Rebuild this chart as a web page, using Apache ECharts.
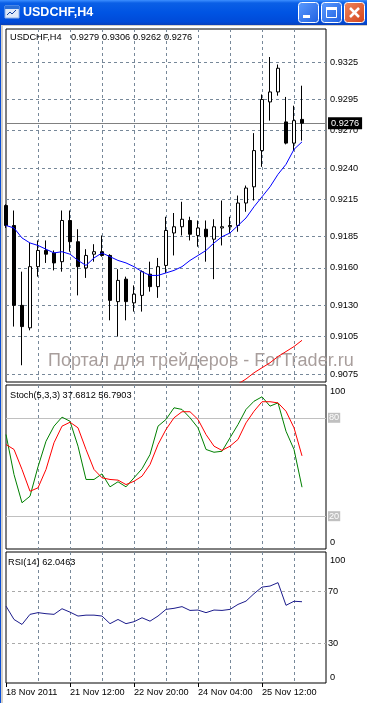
<!DOCTYPE html>
<html><head><meta charset="utf-8">
<script src="https://cdn.jsdelivr.net/npm/echarts@6/dist/echarts.min.js"></script>
<style>html,body{margin:0;padding:0;background:#fff;overflow:hidden}#c{width:367px;height:703px}</style>
</head><body><div id="c"></div>
<script>
// ---- data (USDCHF H4) ----
const categories = ['18 Nov 04:00','18 Nov 08:00','18 Nov 12:00','18 Nov 16:00','18 Nov 20:00','21 Nov 00:00','21 Nov 04:00','21 Nov 08:00',
 '21 Nov 12:00','21 Nov 16:00','21 Nov 20:00','22 Nov 00:00','22 Nov 04:00','22 Nov 08:00','22 Nov 12:00','22 Nov 16:00',
 '22 Nov 20:00','23 Nov 00:00','23 Nov 04:00','23 Nov 08:00','23 Nov 12:00','23 Nov 16:00','23 Nov 20:00','24 Nov 00:00',
 '24 Nov 04:00','24 Nov 08:00','24 Nov 12:00','24 Nov 16:00','24 Nov 20:00','25 Nov 00:00','25 Nov 04:00','25 Nov 08:00',
 '25 Nov 12:00','25 Nov 16:00','25 Nov 20:00','26 Nov 00:00','26 Nov 04:00','26 Nov 08:00'];
const emptySlots = ['', '', ''];
const tickLabels = ['18 Nov 2011','21 Nov 12:00','22 Nov 20:00','24 Nov 04:00','25 Nov 12:00'];

const open  = [0.9210,0.9194,0.9130,0.9112,0.9161,0.9174,0.9172,0.9165,0.9198,0.9181,0.9160,0.9171,0.9173,0.9170,0.9133,0.9151,0.9132,0.9138,0.9155,0.9145,0.9162,0.9188,0.9193,0.9198,0.9186,0.9191,0.9183,0.9192,0.9193,0.9194,0.9212,0.9225,0.9254,0.9293,0.9301,0.9277,0.9260,0.9279];
const close = [0.9194,0.9130,0.9113,0.9161,0.9174,0.9171,0.9164,0.9198,0.9181,0.9161,0.9170,0.9173,0.9170,0.9134,0.9150,0.9133,0.9139,0.9157,0.9145,0.9161,0.9190,0.9193,0.9199,0.9187,0.9192,0.9185,0.9193,0.9193,0.9194,0.9212,0.9224,0.9254,0.9295,0.9301,0.9320,0.9260,0.9278,0.9276];
const high  = [0.9211,0.9206,0.9157,0.9180,0.9182,0.9182,0.9174,0.9206,0.9206,0.9191,0.9175,0.9179,0.9186,0.9171,0.9159,0.9153,0.9146,0.9158,0.9165,0.9168,0.9201,0.9204,0.9213,0.9201,0.9198,0.9198,0.9199,0.9214,0.9201,0.9218,0.9226,0.9268,0.9299,0.9329,0.9323,0.9297,0.9290,0.9306];
const low   = [0.9192,0.9113,0.9082,0.9110,0.9153,0.9164,0.9158,0.9157,0.9173,0.9138,0.9152,0.9165,0.9169,0.9118,0.9105,0.9118,0.9125,0.9125,0.9141,0.9136,0.9156,0.9170,0.9186,0.9182,0.9177,0.9165,0.9151,0.9178,0.9188,0.9189,0.9205,0.9214,0.9241,0.9278,0.9298,0.9259,0.9254,0.9262];
const maFast = [0.9194,0.9192,0.9184,0.9180,0.9178,0.9175,0.9172,0.9173,0.9171,0.9166,0.9162,0.9168,0.9172,0.9169,0.9166,0.9164,0.9161,0.9157,0.9154,0.9154,0.9156,0.9158,0.9161,0.9166,0.9170,0.9174,0.9180,0.9185,0.9188,0.9194,0.9200,0.9209,0.9217,0.9225,0.9235,0.9243,0.9255,0.9261];
const maSlow = [null,null,null,null,null,null,null,null,null,null,null,null,null,null,null,null,null,null,null,null,null,null,null,null,null,null,null,null,null,
 0.9067,0.9071,0.9076,0.9080,0.9084,0.9089,0.9093,0.9097,0.9102];
const stochMain = [69.8,45.4,28.2,32.2,50.1,65.7,74.9,80.4,77.9,62.7,42.4,42.4,45.8,37.9,41.0,37.9,43.4,48.9,57.6,74.9,79.0,86.1,85.1,80.0,73.9,60.7,59.0,59.6,67.8,75.9,85.1,90.1,92.8,87.1,89.1,71.8,60.7,37.6812];
const stochSignal = [63.7,60.7,48.5,35.2,37.3,48.5,64.8,74.9,77.3,73.9,60.7,48.5,43.4,42.4,42.0,39.3,41.3,44.4,51.5,63.7,72.9,80.0,83.7,83.7,79.0,69.8,62.7,60.1,62.7,66.8,76.9,84.0,89.8,89.8,89.1,84.0,73.9,56.7903];
const rsi = [58.7,48.5,44.7,52.4,53.7,52.9,52.4,56.7,54.1,51.1,51.8,51.8,51.1,45.3,48.5,45.3,46.8,49.8,47.2,51.1,56.2,57.0,58.3,55.4,55.7,53.7,55.7,55.4,56.2,60.0,62.5,68.2,73.2,74.0,76.6,59.3,62.4,62.0463];
const priceTicks = [0.9325,0.9295,0.9270,0.9240,0.9215,0.9185,0.9160,0.9130,0.9105,0.9075];
const stochLevels = [80, 20];
const rsiLevels = [70, 30];
const priceMin = 0.906859, priceMax = 0.935144;

// ---- build ----
const FF = '"Liberation Sans", Arial, sans-serif';
const FS = 9.2;
const cats = categories.concat(emptySlots);
const last = open.length - 1;
const candles = open.map((o, i) => [o, close[i], low[i], high[i]]);
const GRID = '#778899';

function xAxisFor(g, bottom) {
  return {
    type: 'category', gridIndex: g, data: cats, boundaryGap: false,
    axisLine: { show: false },
    axisTick: { show: bottom, interval: (i) => i % 8 === 0 && i <= 32, length: 4, lineStyle: { color: '#000' } },
    axisLabel: { show: bottom, interval: (i) => i % 8 === 0 && i <= 32, formatter: (v, i) => tickLabels[i / 8] || '',
      align: 'left', margin: 5, color: '#000', fontSize: FS, fontFamily: FF },
    splitLine: { show: true, interval: (i) => i > 0 && i < 40 && i % 4 === 0, lineStyle: { color: GRID, type: [3, 3], width: 1 } }
  };
}
function oscAxis(g, topPad, botPad) {
  return {
    type: 'value', gridIndex: g, min: 0, max: 100, interval: 100, position: 'right',
    axisLine: { show: false }, axisTick: { show: false }, splitLine: { show: false },
    axisLabel: { margin: 4, color: '#000', fontSize: FS, fontFamily: FF,
      formatter: v => v === 100 ? '{t|100}' : '{b|0}',
      rich: { t: { padding: [topPad, 0, 0, 0], fontSize: FS, fontFamily: FF, color: '#000' },
              b: { padding: [0, 0, botPad, 0], fontSize: FS, fontFamily: FF, color: '#000' } } }
  };
}

const gridBox = { show: true, borderColor: '#000', borderWidth: 1, backgroundColor: '#fff', containLabel: false };

const option = {
  animation: false,
  backgroundColor: '#fff',
  textStyle: { fontFamily: FF },
  grid: [
    Object.assign({ left: 6, top: 29, width: 320, height: 353 }, gridBox),
    Object.assign({ left: 6, top: 385, width: 320, height: 164 }, gridBox),
    Object.assign({ left: 6, top: 552, width: 320, height: 131 }, gridBox)
  ],
  xAxis: [xAxisFor(0, false), xAxisFor(1, false), xAxisFor(2, true)],
  yAxis: [
    { type: 'value', gridIndex: 0, min: priceMin, max: priceMax, show: false, scale: true },
    oscAxis(1, 12, 13),
    oscAxis(2, 16, 11)
  ],
  series: [
    { type: 'candlestick', xAxisIndex: 0, yAxisIndex: 0, data: candles, barWidth: 4, z: 10,
      itemStyle: { color: '#fff', color0: '#000', borderColor: '#000', borderColor0: '#000', borderColorDoji: '#000', borderWidth: 1 } },
    { type: 'line', xAxisIndex: 0, yAxisIndex: 0, data: maFast, showSymbol: false, z: 11,
      lineStyle: { color: '#0000ff', width: 1 },
      markLine: { silent: true, symbol: 'none', animation: false, precision: 6,
        lineStyle: { color: GRID, type: [3, 3], width: 1 },
        label: { position: 'end', distance: 4, color: '#000', fontSize: FS, fontFamily: FF, formatter: p => Number(p.value).toFixed(4) },
        data: priceTicks.map(v => ({ yAxis: v })).concat([{
          yAxis: close[last], lineStyle: { type: 'solid', color: '#808080', width: 1 },
          label: { backgroundColor: '#000', color: '#fff', padding: [2, 3, 1, 3], distance: 2 }
        }]) } },
    { type: 'line', xAxisIndex: 0, yAxisIndex: 0, data: maSlow, showSymbol: false, z: 11, connectNulls: false,
      lineStyle: { color: '#ff0000', width: 1 } },
    { type: 'line', xAxisIndex: 1, yAxisIndex: 1, data: stochMain, showSymbol: false, z: 11,
      lineStyle: { color: '#008000', width: 1 },
      markLine: { silent: true, symbol: 'none', animation: false,
        lineStyle: { color: '#c0c0c0', type: 'solid', width: 1 },
        label: { position: 'end', distance: 2, color: '#fff', backgroundColor: '#c0c0c0', padding: [1, 1, 0, 1],
          fontSize: FS, fontFamily: FF, formatter: p => String(p.value) },
        data: stochLevels.map(v => ({ yAxis: v })) } },
    { type: 'line', xAxisIndex: 1, yAxisIndex: 1, data: stochSignal, showSymbol: false, z: 12,
      lineStyle: { color: '#ff0000', width: 1 } },
    { type: 'line', xAxisIndex: 2, yAxisIndex: 2, data: rsi, showSymbol: false, z: 11,
      lineStyle: { color: '#1c1c8c', width: 1 },
      markLine: { silent: true, symbol: 'none', animation: false,
        lineStyle: { color: '#a9a9a9', type: [3, 3], width: 1 },
        label: { position: 'end', distance: 2, color: '#000', fontSize: FS, fontFamily: FF, formatter: p => String(p.value) },
        data: rsiLevels.map(v => ({ yAxis: v })) } }
  ],
  graphic: [
    // window chrome
    { type: 'rect', shape: { x: 0, y: 0, width: 367, height: 25 }, z: 100,
      style: { fill: new echarts.graphic.LinearGradient(0, 0, 0, 1, [
        { offset: 0, color: '#3d8fff' }, { offset: 0.12, color: '#0a5fe6' }, { offset: 0.5, color: '#0054e3' },
        { offset: 0.88, color: '#004ad8' }, { offset: 1, color: '#0a40b8' }]) } },
    { type: 'rect', shape: { x: 0, y: 25, width: 367, height: 1 }, z: 100, style: { fill: '#d4d0c8' } },
    { type: 'rect', shape: { x: 0, y: 25, width: 1, height: 678 }, z: 100, style: { fill: '#0a4fd8' } },
    { type: 'rect', shape: { x: 1, y: 26, width: 2, height: 677 }, z: 100, style: { fill: '#d4d0c8' } },
    { type: 'rect', shape: { x: 5, y: 6, width: 14, height: 12 }, z: 101, style: { fill: '#dfe9f8', stroke: '#8fb2e8', lineWidth: 1 } },
    { type: 'rect', shape: { x: 5, y: 6, width: 14, height: 3 }, z: 102, style: { fill: '#2a6fd8' } },
    { type: 'polyline', shape: { points: [[7, 15], [10, 12], [12, 14], [16, 10]] }, z: 102, style: { stroke: '#1040a0', lineWidth: 1, fill: null } },
    { type: 'text', z: 101, style: { text: 'USDCHF,H4', x: 23, y: 13, verticalAlign: 'middle', align: 'left',
      font: 'bold 12.5px ' + FF, fill: '#fff' } },
    { type: 'rect', shape: { x: 298.5, y: 2.5, width: 20, height: 20, r: 3 }, z: 101,
      style: { fill: new echarts.graphic.LinearGradient(0, 0, 1, 1, [{ offset: 0, color: '#5c9cff' }, { offset: 1, color: '#1e5fe0' }]), stroke: '#fff', lineWidth: 1 } },
    { type: 'rect', shape: { x: 321.5, y: 2.5, width: 20, height: 20, r: 3 }, z: 101,
      style: { fill: new echarts.graphic.LinearGradient(0, 0, 1, 1, [{ offset: 0, color: '#5c9cff' }, { offset: 1, color: '#1e5fe0' }]), stroke: '#fff', lineWidth: 1 } },
    { type: 'rect', shape: { x: 344.5, y: 2.5, width: 20, height: 20, r: 3 }, z: 101,
      style: { fill: new echarts.graphic.LinearGradient(0, 0, 1, 1, [{ offset: 0, color: '#f0875e' }, { offset: 1, color: '#d2431c' }]), stroke: '#fff', lineWidth: 1 } },
    { type: 'rect', shape: { x: 303, y: 15, width: 7, height: 3 }, z: 102, style: { fill: '#fff' } },
    { type: 'rect', shape: { x: 326.5, y: 7.5, width: 10, height: 10 }, z: 102, style: { fill: null, stroke: '#fff', lineWidth: 1 } },
    { type: 'rect', shape: { x: 326, y: 7, width: 11, height: 3 }, z: 102, style: { fill: '#fff' } },
    { type: 'line', shape: { x1: 350, y1: 8, x2: 359, y2: 17 }, z: 102, style: { stroke: '#fff', lineWidth: 2.5 } },
    { type: 'line', shape: { x1: 359, y1: 8, x2: 350, y2: 17 }, z: 102, style: { stroke: '#fff', lineWidth: 2.5 } },
    // watermark
    { type: 'text', z: 5, silent: true, style: { text: 'Портал для трейдеров - ForTrader.ru', x: 48, y: 361,
      verticalAlign: 'middle', align: 'left', font: '18px ' + FF, fill: '#a89e9c' } },
    // panel headers
    { type: 'text', z: 50, style: { text: 'USDCHF,H4', x: 10, y: 37, verticalAlign: 'middle', font: FS + 'px ' + FF, fill: '#000' } },
    { type: 'text', z: 50, style: { text: open[last].toFixed(4), x: 71, y: 37, verticalAlign: 'middle', font: FS + 'px ' + FF, fill: '#000' } },
    { type: 'text', z: 50, style: { text: high[last].toFixed(4), x: 102, y: 37, verticalAlign: 'middle', font: FS + 'px ' + FF, fill: '#000' } },
    { type: 'text', z: 50, style: { text: low[last].toFixed(4), x: 133, y: 37, verticalAlign: 'middle', font: FS + 'px ' + FF, fill: '#000' } },
    { type: 'text', z: 50, style: { text: close[last].toFixed(4), x: 164, y: 37, verticalAlign: 'middle', font: FS + 'px ' + FF, fill: '#000' } },
    { type: 'text', z: 50, style: { text: 'Stoch(5,3,3) ' + stochMain[last].toFixed(4) + ' ' + stochSignal[last].toFixed(4),
      x: 10, y: 395, verticalAlign: 'middle', font: FS + 'px ' + FF, fill: '#000' } },
    { type: 'text', z: 50, style: { text: 'RSI(14) ' + rsi[last].toFixed(4), x: 8, y: 562, verticalAlign: 'middle', font: FS + 'px ' + FF, fill: '#000' } }
  ]
};
const chart = echarts.init(document.getElementById('c'), null, { renderer: 'canvas', width: 367, height: 703 });
chart.setOption(option);
</script>
</body></html>
